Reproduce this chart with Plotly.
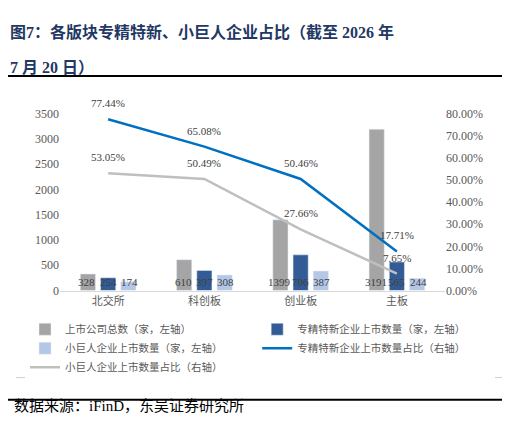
import plotly.graph_objects as go

boards = ['北交所', '科创板', '创业板', '主板']
total = [328, 610, 1399, 3191]
zjtx = [254, 397, 706, 565]
xjr = [174, 308, 387, 244]
zjtx_pct = [77.44, 65.08, 50.46, 17.71]
xjr_pct = [53.05, 50.49, 27.66, 7.65]

FONT = 'Liberation Serif, Noto Sans CJK SC'
# page has an 8px body margin, so the figure is drawn 16px smaller
W, H = 510 - 16, 439 - 16


def px(x):
    return (x - 8) / W


def py(y):
    return 1 - (y - 8) / H


fig = go.Figure()
fig.add_trace(go.Bar(x=boards, y=total, name='上市公司总数（家，左轴）', marker_color='#A5A5A5'))
fig.add_trace(go.Bar(x=boards, y=zjtx, name='专精特新企业上市数量（家，左轴）', marker_color='#335C96'))
fig.add_trace(go.Bar(x=boards, y=xjr, name='小巨人企业上市数量（家，左轴）', marker_color='#B4C7E7'))
fig.add_trace(go.Scatter(x=boards, y=zjtx_pct, yaxis='y2', mode='lines',
                         name='专精特新企业上市数量占比（右轴）', line=dict(color='#0070C0', width=2.5)))
fig.add_trace(go.Scatter(x=boards, y=xjr_pct, yaxis='y2', mode='lines',
                         name='小巨人企业上市数量占比（右轴）', line=dict(color='#BFBFBF', width=2.5)))

# percentage labels above line points
for i, b in enumerate(boards):
    for vals in (zjtx_pct, xjr_pct):
        fig.add_annotation(x=i, y=vals[i], xref='x', yref='y2', yshift=16, text=f'{vals[i]:.2f}%',
                           showarrow=False, font=dict(size=11, color='#404040', family=FONT))

# value labels sit along the bottom of the bars
for i, b in enumerate(boards):
    for j, vals in enumerate([total, zjtx, xjr]):
        fig.add_annotation(x=i + (j - 1) * 0.22, y=170, xref='x', yref='y', text=str(vals[i]),
                           showarrow=False, font=dict(size=11, color='#404040', family=FONT))

fig.add_annotation(x=px(8), y=py(14), xref='paper', yref='paper', xanchor='left', showarrow=False,
                   text='<b>图7：各版块专精特新、小巨人企业占比（截至 2026 年</b>',
                   font=dict(size=16, color='#1F3864', family=FONT))
fig.add_annotation(x=px(8), y=py(51), xref='paper', yref='paper', xanchor='left', showarrow=False,
                   text='<b>7 月 20 日）</b>', font=dict(size=16, color='#1F3864', family=FONT))
fig.add_annotation(x=px(12), y=py(423), xref='paper', yref='paper', xanchor='left', showarrow=False,
                   text='数据来源：iFinD，东吴证券研究所', font=dict(size=15, color='#000', family=FONT))
fig.add_shape(type='line', xref='paper', yref='paper', x0=px(5), x1=px(505), y0=py(71), y1=py(71),
              line=dict(color='black', width=2))
fig.add_shape(type='line', xref='paper', yref='paper', x0=px(5), x1=px(505), y0=py(406), y1=py(406),
              line=dict(color='black', width=2))
fig.add_shape(type='line', xref='paper', yref='paper', x0=px(16), x1=px(505), y0=py(383), y1=py(383),
              line=dict(color='#D0D0D0', width=1))

fig.update_layout(
    width=W, height=H, margin=dict(l=0, r=0, t=0, b=0),
    paper_bgcolor='white', plot_bgcolor='white',
    font=dict(family=FONT, size=11, color='#595959'),
    barmode='group', bargap=0.37, bargroupgap=0.25,
    xaxis=dict(domain=[px(60), px(445)], showline=True, linecolor='#D9D9D9', ticks='',
               tickfont=dict(size=11)),
    yaxis=dict(domain=[py(293), py(110)], range=[0, 3500], dtick=500, showgrid=False,
               zeroline=False, tickfont=dict(size=12)),
    yaxis2=dict(overlaying='y', side='right', range=[0, 80], dtick=10, showgrid=False,
                ticksuffix='%', tickformat='.2f', zeroline=False, tickfont=dict(size=12)),
    legend=dict(orientation='h', x=px(25), y=py(318), yanchor='top', xanchor='left',
                entrywidth=0.47, entrywidthmode='fraction', font=dict(size=10.5, color='#595959'),
                itemwidth=30, tracegroupgap=0),
    showlegend=True,
)

fig.write_html('out.html')
